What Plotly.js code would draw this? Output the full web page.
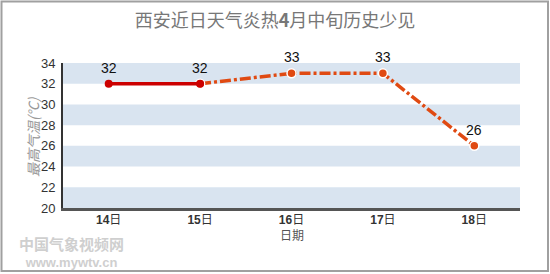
<!DOCTYPE html>
<html><head><meta charset="utf-8">
<script src="https://cdn.plot.ly/plotly-3.0.1.min.js"></script>
<style>html,body{margin:0;padding:0;background:#fff}#c{width:550px;height:274px}</style>
</head><body><div id="c"></div>
<script>
const days = ['14', '15', '16', '17', '18'];
const dayLabels = ['<b>14</b>日', '<b>15</b>日', '<b>16</b>日', '<b>17</b>日', '<b>18</b>日'];
const temps = [32, 32, 33, 33, 26];
const observedCount = 2; // 14日-15日 solid, rest dashed forecast
const yTicks = [20, 22, 24, 26, 28, 30, 32, 34];
const bandStarts = [20, 24, 28, 32];

const idx = days.map((d, i) => i);
const W = 550, H = 274, L = 63, R = 30, T = 63, B = 66;
const pw = W - L - R, ph = H - T - B;
const px = v => (v - L) / pw;
const py = v => (H - B - v) / ph;

const shapes = bandStarts.map(s => ({
  type: 'rect', xref: 'paper', yref: 'y', x0: 0, x1: 1, y0: s, y1: s + 2,
  fillcolor: '#d9e4f0', line: {width: 0}, layer: 'below'
}));
shapes.push({type: 'rect', xref: 'paper', yref: 'paper', x0: px(1.5), x1: px(548), y0: py(271), y1: py(1.5),
  line: {color: '#a0a0a0', width: 2}, fillcolor: 'rgba(0,0,0,0)'});

const traces = [
  {x: idx.slice(observedCount - 1), y: temps.slice(observedCount - 1), mode: 'lines+markers',
   line: {color: '#e04a12', width: 3.5, dash: '11px,3px,3px,3px'},
   marker: {color: '#e04a12', size: 9, line: {color: '#fff', width: 1.5}}},
  {x: idx.slice(0, observedCount), y: temps.slice(0, observedCount), mode: 'lines+markers',
   line: {color: '#cc0000', width: 3.5},
   marker: {color: '#cc0000', size: 8}}
];

const valueLabels = idx.map(i => ({
  x: i, y: temps[i], xref: 'x', yref: 'y', text: String(temps[i]), showarrow: false,
  xanchor: 'center', yanchor: 'middle', yshift: 16,
  font: {family: 'Liberation Sans, Arial', size: 14, color: '#111'}
}));

const layout = {
  width: W, height: H, margin: {l: L, r: R, t: T, b: B}, showlegend: false,
  paper_bgcolor: '#fff', plot_bgcolor: '#fff',
  title: {text: '西安近日天气炎热<b>4</b>月中旬历史少见', x: 0.5, xanchor: 'center', y: 1 - 21 / H, yanchor: 'middle',
    font: {family: 'Noto Sans CJK SC', size: 18, color: '#777'}},
  xaxis: {range: [-0.5, 4.5], tickvals: idx, ticktext: dayLabels, showgrid: false, zeroline: false,
    showline: true, linecolor: '#555', linewidth: 2.5, ticks: '', fixedrange: true, ticklabelstandoff: -1,
    tickfont: {family: 'Liberation Sans, Noto Sans CJK SC', size: 12, color: '#333'}},
  yaxis: {range: [20, 34], tickvals: yTicks, showgrid: false, zeroline: false,
    showline: true, linecolor: '#333', linewidth: 2, ticks: '', ticklabelstandoff: 3,
    tickfont: {family: 'Liberation Sans, Arial', size: 13, color: '#333'}},
  shapes: shapes,
  annotations: valueLabels.concat([
    {text: '<i>最高气温(℃)</i>', xref: 'paper', yref: 'paper', x: px(33), y: py(137), textangle: -90,
     xanchor: 'center', yanchor: 'middle',
     showarrow: false, font: {family: 'Noto Sans CJK SC', size: 14, color: '#999'}},
    {text: '日期', xref: 'paper', yref: 'paper', x: px(292), y: py(234), showarrow: false,
     xanchor: 'center', yanchor: 'middle',
     font: {family: 'Noto Sans CJK SC', size: 12, color: '#555'}},
    {text: '<b><span style="font-size:15px">中国气象视频网</span></b><br><b>www.mywtv.cn</b>', xref: 'paper', yref: 'paper',
     x: px(71), y: py(253), showarrow: false, xanchor: 'center', yanchor: 'middle',
     font: {family: 'Liberation Sans, Noto Sans CJK SC', size: 13, color: '#cfcfcf'}}
  ])
};
Plotly.newPlot('c', traces, layout, {staticPlot: true, displayModeBar: false});
</script></body></html>
